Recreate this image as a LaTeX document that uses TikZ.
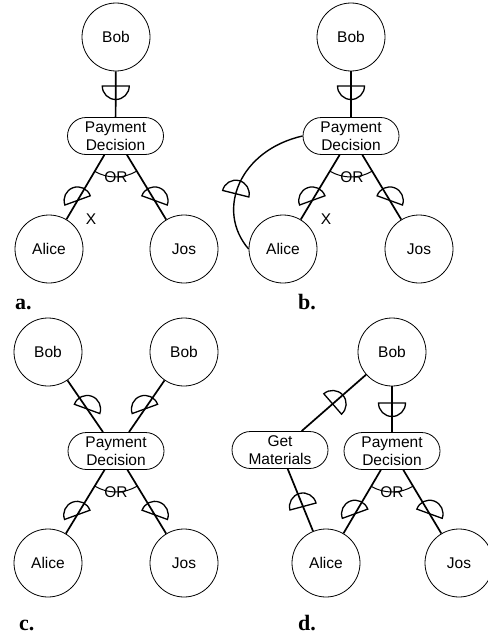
\documentclass[tikz,border=0pt]{standalone}
\usepackage{fontspec}
\setmainfont{Liberation Serif}
\newfontfamily\arialf{Liberation Sans}
\usetikzlibrary{calc}
\newcommand\dee[2]{\draw[dsymb, shift={(#1)}, rotate=#2] (-13.5pt,0pt) arc[start angle=180,end angle=0,radius=13.5pt] -- cycle;}
\newcommand\orarcat[3]{\draw[orarc] ([shift={(#2:41pt)}]#1.center) arc[start angle=#2, end angle=#3, radius=41pt];}
\begin{document}
\begin{tikzpicture}[x=1pt,y=-1pt,
  actor/.style={draw, line width=0.8pt, circle, minimum size=68pt, inner sep=0pt, font=\arialf\fontsize{15.5}{18.5}\selectfont},
  goal/.style={draw, line width=0.8pt, rectangle, rounded corners=18.5pt, minimum width=96pt, minimum height=37pt, inner sep=0pt, align=center, font=\arialf\fontsize{15.5}{18.5}\selectfont},
  link/.style={line width=1.7pt},
  dsymb/.style={line width=1.3pt},
  orarc/.style={line width=1pt},
  txt/.style={font=\arialf\fontsize{15.5}{18.5}\selectfont, inner sep=0pt},
  panellabel/.style={font=\bfseries\fontsize{22}{26}\selectfont, anchor=base west, inner sep=0pt}]
\useasboundingbox (0,0) rectangle (487,642);
% ---------------- panel a
\node[actor] (BobA) at (116,37) {Bob};
\node[goal] (PayA) at (115.5,136) {Payment\\Decision};
\node[actor] (AliceA) at (49,249) {Alice};
\node[actor] (JosA) at (184,249) {Jos};
\draw[link] (BobA) -- (PayA);
\draw[link] (PayA) -- (AliceA);
\draw[link] (PayA) -- (JosA);
\coordinate (dA1) at ($(BobA)!0.495!(PayA)$);
\coordinate (dA2) at ($(PayA)!0.57!(AliceA)$);
\coordinate (dA3) at ($(PayA)!0.57!(JosA)$);
\dee{dA1}{180}
\dee{dA2}{20}
\dee{dA3}{-20}
\orarcat{PayA}{239.5}{301.4}
\node[txt] (orA) at (116,177) {OR};
\node[txt] (xA) at (91,219) {X};
\node[panellabel] (labA) at (15,309) {a.};
% ---------------- panel b
\node[actor] (BobB) at (351,37) {Bob};
\node[goal] (PayB) at (351,136) {Payment\\Decision};
\node[actor] (AliceB) at (283,249) {Alice};
\node[actor] (JosB) at (419,249) {Jos};
\draw[link] (BobB) -- (PayB);
\draw[link] (PayB) -- (AliceB);
\draw[link] (PayB) -- (JosB);
\draw[link, line width=1.4pt] (PayB.west) .. controls (240,150) and (215,210) .. (AliceB.west) coordinate[pos=0.58] (cB);
\coordinate (dB1) at ($(BobB)!0.495!(PayB)$);
\coordinate (dB2) at ($(PayB)!0.57!(AliceB)$);
\coordinate (dB3) at ($(PayB)!0.57!(JosB)$);
\dee{dB1}{180}
\dee{dB2}{20}
\dee{dB3}{-20}
\dee{cB}{-14}
\orarcat{PayB}{239.5}{301.4}
\node[txt] (orB) at (352,177) {OR};
\node[txt] (xB) at (326,219) {X};
\node[panellabel] (labB) at (298,309) {b.};
% ---------------- panel c
\node[actor] (BobC1) at (48,352) {Bob};
\node[actor] (BobC2) at (184,352) {Bob};
\node[goal] (PayC) at (116,451) {Payment\\Decision};
\node[actor] (AliceC) at (48,563) {Alice};
\node[actor] (JosC) at (184,563) {Jos};
\draw[link] (BobC1) -- (PayC);
\draw[link] (BobC2) -- (PayC);
\draw[link] (PayC) -- (AliceC);
\draw[link] (PayC) -- (JosC);
\coordinate (dC1) at ($(BobC1)!0.575!(PayC)$);
\coordinate (dC2) at ($(BobC2)!0.575!(PayC)$);
\coordinate (dC3) at ($(PayC)!0.57!(AliceC)$);
\coordinate (dC4) at ($(PayC)!0.57!(JosC)$);
\dee{dC1}{-20}
\dee{dC2}{20}
\dee{dC3}{20}
\dee{dC4}{-20}
\orarcat{PayC}{238.7}{301.3}
\node[txt] (orC) at (116,492) {OR};
\node[panellabel] (labC) at (19,630) {c.};
% ---------------- panel d
\node[actor] (BobD) at (392,352) {Bob};
\node[goal] (GetD) at (280,450) {Get\\Materials};
\node[goal] (PayD) at (392,451) {Payment\\Decision};
\node[actor] (AliceD) at (326,563) {Alice};
\node[actor] (JosD) at (459,563) {Jos};
\draw[link] (BobD) -- (GetD);
\draw[link] (BobD) -- (PayD);
\draw[link] (GetD) -- (AliceD);
\draw[link] (PayD) -- (AliceD);
\draw[link] (PayD) -- (JosD);
\coordinate (dD1) at ($(BobD)!0.53!(GetD)$);
\coordinate (dD2) at ($(BobD)!0.515!(PayD)$);
\coordinate (dD3) at ($(GetD)!0.5!(AliceD)$);
\coordinate (dD4) at ($(PayD)!0.56!(AliceD)$);
\coordinate (dD5) at ($(PayD)!0.56!(JosD)$);
\dee{dD1}{-49}
\dee{dD2}{180}
\dee{dD3}{15}
\dee{dD4}{20}
\dee{dD5}{-20}
\orarcat{PayD}{239.5}{300.8}
\node[txt] (orD) at (392,492) {OR};
\node[panellabel] (labD) at (298,630) {d.};
\end{tikzpicture}
\end{document}
